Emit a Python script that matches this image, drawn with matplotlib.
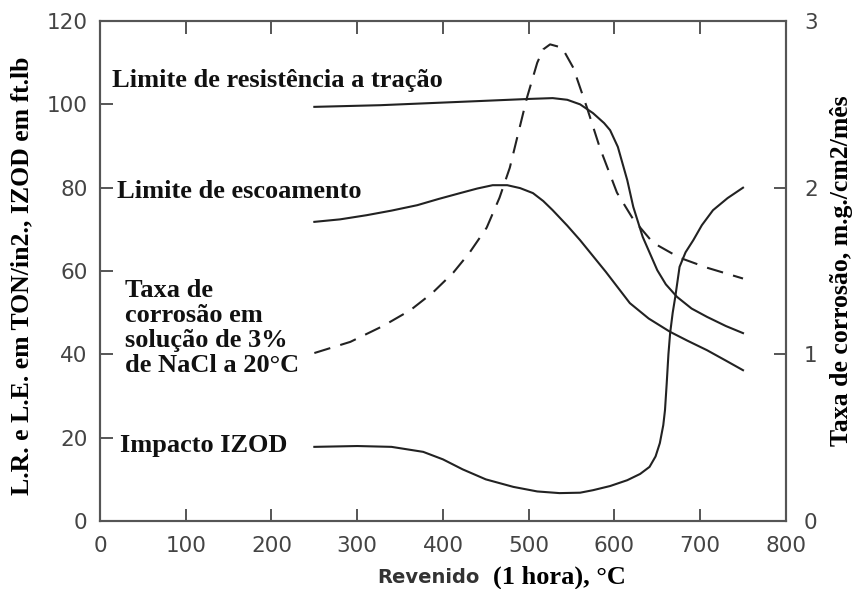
import matplotlib
matplotlib.use("Agg")
import matplotlib.pyplot as plt

# Revenido (1 hora), °C
lr_temp = [250, 327, 443, 500, 528, 545, 560, 575, 588, 595, 604, 615, 622, 633, 650, 660,
           673, 690, 708, 730, 750]
lr_val = [99.4, 99.8, 100.8, 101.3, 101.5, 101.1, 100.0, 97.9, 95.5, 93.8, 89.8, 81.8, 75.4,
          68.2, 60.2, 56.8, 53.8, 51, 49, 46.8, 45.1]

le_temp = [250, 280, 311, 340, 370, 395, 420, 440, 458, 475, 490, 505, 517, 528, 545, 560,
           590, 618, 640, 665, 685, 708, 730, 750]
le_val = [71.8, 72.4, 73.4, 74.5, 75.8, 77.3, 78.7, 79.8, 80.6, 80.6, 79.9, 78.7, 76.8, 74.6,
          70.9, 67.4, 59.8, 52.3, 48.6, 45.4, 43.3, 41, 38.5, 36.2]

izod_temp = [250, 300, 340, 377, 400, 423, 450, 482, 510, 536, 560, 575, 595, 615, 630, 641,
             648, 653, 657, 659, 661, 663, 665, 668, 671, 676, 683, 692, 702, 715, 732, 750]
izod_val = [17.8, 18, 17.8, 16.6, 14.8, 12.4, 10, 8.2, 7.1, 6.7, 6.8, 7.4, 8.4, 9.8, 11.3, 13,
            15.5, 18.7, 23, 26.6, 33, 40, 45.1, 50, 53.8, 61, 64.5, 67.4, 71, 74.6, 77.5, 80]

# taxa de corrosao, m.g./cm2/mes (eixo da direita)
corr_temp = [250, 292, 330, 362, 388, 412, 431, 451, 466, 478, 488, 498, 510, 517, 525, 539,
             552, 568, 583, 603, 622, 645, 676, 708, 750]
corr_val = [1.008, 1.075, 1.17, 1.265, 1.37, 1.49, 1.61, 1.76, 1.94, 2.12, 2.33, 2.54, 2.75,
            2.83, 2.86, 2.84, 2.72, 2.48, 2.24, 1.97, 1.81, 1.67, 1.58, 1.52, 1.455]

x_ticks = [0, 100, 200, 300, 400, 500, 600, 700, 800]
y_ticks = [0, 20, 40, 60, 80, 100, 120]
y2_ticks = [0, 1, 2, 3]

serif = ["Liberation Serif", "DejaVu Serif"]
tick_col = "#444444"
line_col = "#222222"

fig = plt.figure(figsize=(8.57, 5.89), dpi=100)
ax = fig.add_axes([0.1167, 0.1154, 0.8003, 0.8489])
ax2 = ax.twinx()

ax.plot(lr_temp, lr_val, color=line_col, lw=1.5)
ax.plot(le_temp, le_val, color=line_col, lw=1.5)
ax.plot(izod_temp, izod_val, color=line_col, lw=1.5)
ax2.plot(corr_temp, corr_val, color=line_col, lw=1.5, dashes=(8, 5))

ax.set_xlim(0, 800)
ax.set_ylim(0, 120)
ax2.set_ylim(0, 3)
ax.set_xticks(x_ticks)
ax.set_yticks(y_ticks)
ax2.set_yticks(y2_ticks)

for a in (ax, ax2):
    for s in a.spines.values():
        s.set_color("#555555")
        s.set_linewidth(1.5)
ax.tick_params(axis="both", direction="in", length=9, width=1.4, color="#555555",
               labelsize=15.5, labelcolor=tick_col, pad=9, top=True)
ax.tick_params(axis="x", pad=11)
ax2.tick_params(axis="y", direction="in", length=9, width=1.4, color="#555555",
                labelsize=15.5, labelcolor=tick_col, pad=13)

# rotulos das curvas
lab = dict(fontsize=19, fontweight="bold", family=serif, color="#111111", va="center",
           transform=ax.transData)
ax.text(14, 105.8, "Limite de resistência a tração", **lab)
ax.text(20, 79.2, "Limite de escoamento", **lab)
ax.text(29, 46.3, "Taxa de\ncorrosão em\nsolução de 3%\nde NaCl a 20°C", linespacing=1.1, **lab)
ax.text(23, 18.1, "Impacto IZOD", **lab)

fig.text(0.025, 0.531, "L.R. e L.E. em TON/in2., IZOD em ft.lb", rotation=90,
         ha="center", va="center", fontsize=18.5, fontweight="bold", family=serif)
fig.text(0.982, 0.54, "Taxa de corrosão, m.g./cm2/mês", rotation=90,
         ha="center", va="center", fontsize=18.5, fontweight="bold", family=serif)
fig.text(0.44, 0.02, "Revenido", ha="left", va="center", fontsize=14, fontweight="bold",
         color="#333333")
fig.text(0.575, 0.02, "(1 hora), °C", ha="left", va="center", fontsize=19, fontweight="bold",
         family=serif)

fig.savefig("out.png", dpi=100)
